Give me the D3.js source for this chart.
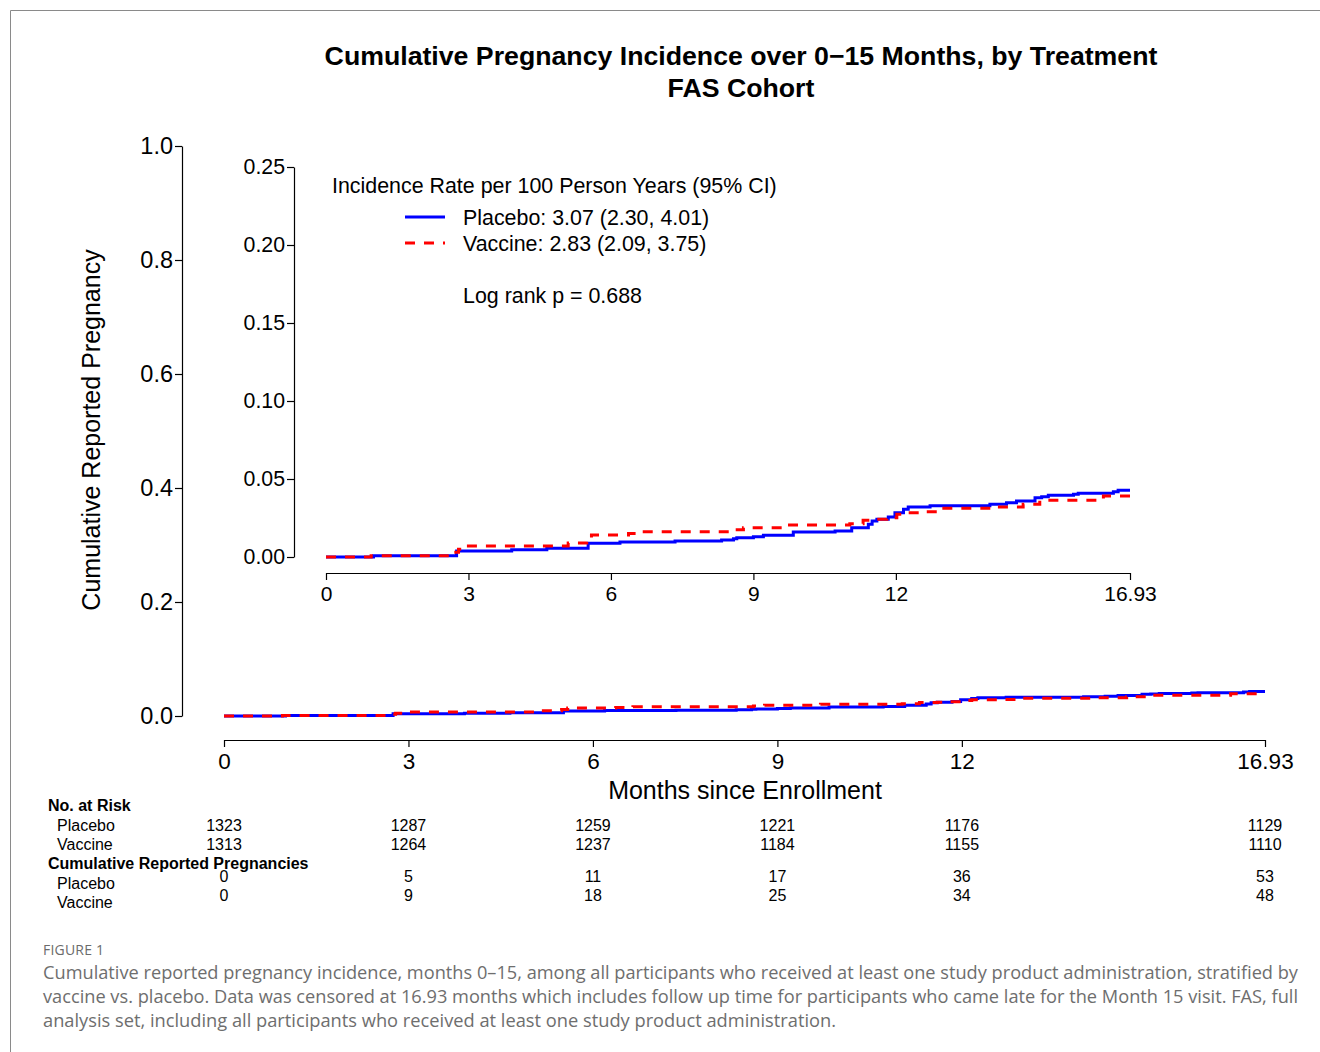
<!DOCTYPE html>
<html>
<head>
<meta charset="utf-8">
<script src="https://cdn.jsdelivr.net/npm/d3@7"></script>
<style>
  html, body { margin: 0; padding: 0; background: #fff; }
  svg { display: block; }
</style>
</head>
<body>
<svg id="chart" width="1320" height="1052"></svg>
<script>
// ---------------- DATA ----------------
const groups = ["Placebo", "Vaccine"];
const endTime = 16.93;

const placeboTimes = [0, 1.0, 2.75, 3.91, 4.65, 5.52, 6.19, 7.35, 8.33, 8.58, 8.65, 9.0, 9.21, 9.84, 10.72, 11.07, 11.42, 11.5, 11.6, 11.84, 11.98, 12.16, 12.26, 12.72, 13.98, 14.33, 14.54, 14.93, 15.07, 15.21, 15.74, 15.84, 16.58, 16.68];
const placeboValues = [0, 0.0008, 0.0038, 0.0047, 0.0056, 0.0088, 0.0096, 0.0103, 0.0109, 0.0117, 0.0124, 0.0130, 0.0139, 0.0160, 0.0167, 0.0188, 0.0210, 0.0231, 0.0242, 0.0256, 0.0284, 0.0306, 0.0321, 0.0329, 0.0338, 0.0348, 0.0359, 0.0380, 0.0387, 0.0396, 0.0402, 0.0408, 0.0419, 0.0428];

const vaccineTimes = [0, 0.95, 2.68, 2.79, 2.96, 5.10, 5.49, 5.59, 6.37, 6.65, 8.61, 8.79, 9.70, 11.03, 11.31, 11.60, 11.81, 12.02, 12.16, 12.58, 12.93, 14.12, 14.68, 15.03, 16.37];
const vaccineValues = [0, 0.0008, 0.0030, 0.0050, 0.0071, 0.0090, 0.0115, 0.0141, 0.0150, 0.0162, 0.0175, 0.0188, 0.0205, 0.0213, 0.0235, 0.0242, 0.0252, 0.0274, 0.0284, 0.0290, 0.0312, 0.0321, 0.0338, 0.0363, 0.0391];

const xTicks = [0, 3, 6, 9, 12, 16.93];
const xTickLabels = ["0", "3", "6", "9", "12", "16.93"];
const mainYTicks = [0, 0.2, 0.4, 0.6, 0.8, 1.0];
const insetYTicks = [0, 0.05, 0.10, 0.15, 0.20, 0.25];

const riskPlacebo = [1323, 1287, 1259, 1221, 1176, 1129];
const riskVaccine = [1313, 1264, 1237, 1184, 1155, 1110];
const cumPlacebo = [0, 5, 11, 17, 36, 53];
const cumVaccine = [0, 9, 18, 25, 34, 48];

const legendLabels = ["Placebo: 3.07 (2.30, 4.01)", "Vaccine: 2.83 (2.09, 3.75)"];
const legendTitle = "Incidence Rate per 100 Person Years (95% CI)";
const logRankText = "Log rank p = 0.688";

const titleLines = ["Cumulative Pregnancy Incidence over 0\u221215 Months, by Treatment", "FAS Cohort"];
const captionLabel = "FIGURE 1";
const captionLines = [
  "Cumulative reported pregnancy incidence, months 0\u201315, among all participants who received at least one study product administration, stratified by",
  "vaccine vs. placebo. Data was censored at 16.93 months which includes follow up time for participants who came late for the Month 15 visit. FAS, full",
  "analysis set, including all participants who received at least one study product administration."
];

// ---------------- DRAW ----------------
const svg = d3.select("#chart");
const FONT = "'Liberation Sans', Arial, Helvetica, sans-serif";
const colors = { Placebo: "#0000ff", Vaccine: "#ff0000" };

// frame
svg.append("line").attr("x1", 10.5).attr("x2", 1320).attr("y1", 10.5).attr("y2", 10.5)
  .attr("stroke", "#8a8a8a").attr("stroke-width", 1);
svg.append("line").attr("x1", 10.5).attr("x2", 10.5).attr("y1", 10.5).attr("y2", 1052)
  .attr("stroke", "#8a8a8a").attr("stroke-width", 1);

// title
svg.selectAll("text.title").data(titleLines).enter().append("text")
  .attr("class", "title")
  .attr("x", 741).attr("y", (d, i) => 65 + i * 32)
  .attr("text-anchor", "middle")
  .attr("font-family", FONT).attr("font-weight", "bold").attr("font-size", 26.7)
  .attr("fill", "#000").text(d => d);

function series(times, values) {
  const pts = times.map((t, i) => ({ t, v: values[i] }));
  pts.push({ t: endTime, v: values[values.length - 1] });
  return pts;
}
const data = {
  Placebo: series(placeboTimes, placeboValues),
  Vaccine: series(vaccineTimes, vaccineValues)
};

function drawPanel(cfg) {
  const g = svg.append("g");
  const x = d3.scaleLinear().domain([0, endTime]).range([cfg.x0, cfg.x1]);
  const y = d3.scaleLinear().domain(cfg.yDomain).range([cfg.y0, cfg.y1]);

  // y axis
  const yAxis = d3.axisLeft(y).tickValues(cfg.yTicks).tickFormat(cfg.yFormat)
    .tickSizeOuter(0).tickSizeInner(cfg.tick).tickPadding(2);
  const ya = g.append("g").attr("transform", `translate(${cfg.yAxisX},0)`).call(yAxis);
  ya.select(".domain").attr("stroke", "#000").attr("stroke-width", 1.2);
  ya.selectAll(".tick line").attr("stroke", "#000").attr("stroke-width", 1.2);
  ya.selectAll(".tick text").attr("font-family", FONT).attr("font-size", cfg.yFont).attr("fill", "#000");

  // x axis
  const xAxis = d3.axisBottom(x).tickValues(xTicks).tickFormat((d, i) => xTickLabels[i])
    .tickSizeOuter(0).tickSizeInner(cfg.tick).tickPadding(cfg.xPad);
  const xa = g.append("g").attr("transform", `translate(0,${cfg.xAxisY})`).call(xAxis);
  xa.select(".domain").attr("stroke", "#000").attr("stroke-width", 1.2);
  xa.selectAll(".tick line").attr("stroke", "#000").attr("stroke-width", 1.2);
  xa.selectAll(".tick text").attr("font-family", FONT).attr("font-size", cfg.xFont).attr("fill", "#000");

  const line = d3.line().x(d => x(d.t)).y(d => y(d.v)).curve(d3.curveStepAfter);
  g.append("path").datum(data.Placebo).attr("d", line)
    .attr("fill", "none").attr("stroke", colors.Placebo).attr("stroke-width", 3);
  g.append("path").datum(data.Vaccine).attr("d", line)
    .attr("fill", "none").attr("stroke", colors.Vaccine).attr("stroke-width", 3)
    .attr("stroke-dasharray", "10,9");
  return { x, y };
}

// main panel
const main = drawPanel({
  x0: 224, x1: 1265, y0: 716, y1: 146, yDomain: [0, 1],
  yTicks: mainYTicks, yFormat: d3.format(".1f"),
  yAxisX: 182, xAxisY: 740, tick: 7, yFont: 23.5, xFont: 22.5, xPad: 6
});

// inset panel
drawPanel({
  x0: 326, x1: 1130, y0: 557, y1: 167, yDomain: [0, 0.25],
  yTicks: insetYTicks, yFormat: d3.format(".2f"),
  yAxisX: 294, xAxisY: 573, tick: 7, yFont: 21.3, xFont: 21, xPad: 6
});

// y label
svg.append("text")
  .attr("transform", "translate(100,430) rotate(-90)")
  .attr("text-anchor", "middle")
  .attr("font-family", FONT).attr("font-size", 25).attr("fill", "#000")
  .text("Cumulative Reported Pregnancy");

// x label
svg.append("text")
  .attr("x", 745).attr("y", 799).attr("text-anchor", "middle")
  .attr("font-family", FONT).attr("font-size", 25).attr("fill", "#000")
  .text("Months since Enrollment");

// legend
const LF = 21.4;
svg.append("text").attr("x", 332).attr("y", 193)
  .attr("font-family", FONT).attr("font-size", LF).attr("fill", "#000").text(legendTitle);
groups.forEach((gname, i) => {
  const yy = 217 + i * 26;
  svg.append("line").attr("x1", 405).attr("x2", 445).attr("y1", yy).attr("y2", yy)
    .attr("stroke", colors[gname]).attr("stroke-width", 3)
    .attr("stroke-dasharray", gname === "Vaccine" ? "10,9" : null);
  svg.append("text").attr("x", 463).attr("y", yy + 8)
    .attr("font-family", FONT).attr("font-size", LF).attr("fill", "#000").text(legendLabels[i]);
});
svg.append("text").attr("x", 463).attr("y", 303)
  .attr("font-family", FONT).attr("font-size", LF).attr("fill", "#000").text(logRankText);

// risk table
const tx = main.x;
function tableText(x, y, txt, opts = {}) {
  svg.append("text").attr("x", x).attr("y", y)
    .attr("text-anchor", opts.anchor || "start")
    .attr("font-family", FONT).attr("font-size", 16)
    .attr("font-weight", opts.bold ? "bold" : "normal")
    .attr("fill", "#000").text(txt);
}
tableText(48, 811, "No. at Risk", { bold: true });
tableText(57, 831, "Placebo");
tableText(57, 850, "Vaccine");
tableText(48, 869, "Cumulative Reported Pregnancies", { bold: true });
tableText(57, 889, "Placebo");
tableText(57, 908, "Vaccine");
xTicks.forEach((t, i) => {
  tableText(tx(t), 831, riskPlacebo[i], { anchor: "middle" });
  tableText(tx(t), 850, riskVaccine[i], { anchor: "middle" });
  tableText(tx(t), 882, cumPlacebo[i], { anchor: "middle" });
  tableText(tx(t), 901, cumVaccine[i], { anchor: "middle" });
});

// caption
const CAPFONT = "'Open Sans', 'Noto Sans', sans-serif";
svg.append("text").attr("x", 43).attr("y", 955)
  .attr("font-family", CAPFONT).attr("font-size", 14).attr("fill", "#6b6b6b")
  .attr("letter-spacing", 0.2).text(captionLabel);
const capWidths = [1255, 1255, 793];
captionLines.forEach((line, i) => {
  svg.append("text").attr("x", 43).attr("y", 979 + i * 24)
    .attr("font-family", CAPFONT).attr("font-size", 18)
    .attr("fill", "#6e6e6e").text(line)
    .attr("textLength", capWidths[i]).attr("lengthAdjust", "spacingAndGlyphs");
});
</script>
</body>
</html>
